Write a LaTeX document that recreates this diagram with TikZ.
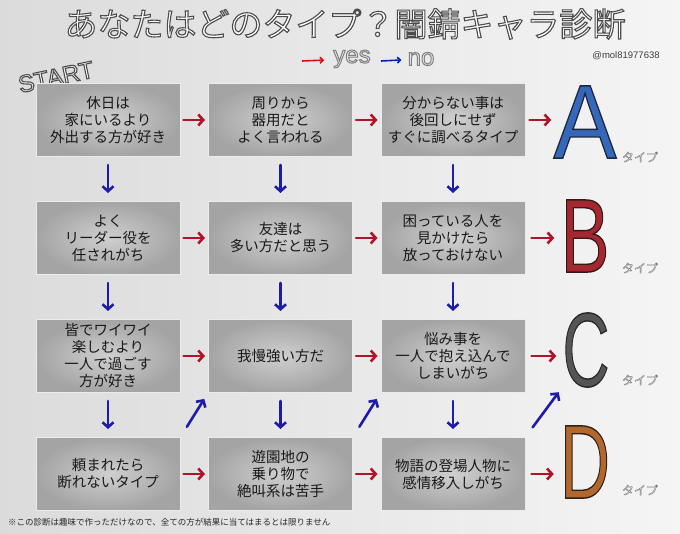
\documentclass[tikz,border=0pt]{standalone}
\usepackage{fontspec}
\setmainfont{Liberation Sans}
\newfontfamily\cjk{Noto Sans CJK JP}
\usetikzlibrary{positioning,arrows.meta}
\definecolor{yescol}{HTML}{B0142A}
\definecolor{nocol}{HTML}{1C1CA6}
\definecolor{boxedge}{HTML}{A4A4A4}
\definecolor{boxmid}{HTML}{CFCFCF}
\definecolor{letterA}{HTML}{3568BA}
\definecolor{letterB}{HTML}{A52830}
\definecolor{letterC}{HTML}{555555}
\definecolor{letterD}{HTML}{B0682E}
\tikzstyle{question} = [rectangle, minimum width=144pt, minimum height=73pt, inner sep=0pt, align=center, draw=white!85!gray, line width=1pt, inner color=boxmid, outer color=boxedge, text=black!90, font=\cjk\fontsize{14.5}{17}\selectfont]
\tikzstyle{yesarrow} = [yescol, line width=2.6pt, line cap=round, line join=round, -{Straight Barb[length=5pt,width=11pt]}, shorten <=3pt, shorten >=3pt]
\tikzstyle{noarrow} = [nocol, line width=2.6pt, line cap=round, line join=round, -{Straight Barb[length=5pt,width=11pt]}, shorten <=8pt, shorten >=8pt]
\tikzstyle{result} = [inner sep=0pt, font=\fontsize{105}{105}\selectfont]
\tikzstyle{typetag} = [inner sep=0pt, text=white!95!gray, font=\cjk\fontsize{12}{12}\selectfont]

% filled text with a stroked rim: rim colour (r g b), rim width, text
\newcommand{\hollow}[3]{\special{pdf:literal direct 2 Tr #1 RG #2 w}#3\special{pdf:literal direct 0 Tr}}

\begin{document}
\begin{tikzpicture}[x=1pt, y=1pt, node distance=44pt and 27.5pt]

	\useasboundingbox (0,0) rectangle (680,533);
	\fill[left color=black!14, right color=black!4] (0,0) rectangle (680,533);

	% heading
	\node (title) at (345,509) [inner sep=0pt, text=white, font=\cjk\fontsize{33}{33}\selectfont] {\hollow{0.3 0.3 0.3}{1.1}{あなたはどのタイプ？闇錆キャラ診断}};
	\node (yesLabel) at (352,474) [inner sep=0pt, text=black!8, font=\fontsize{24}{24}\selectfont] {\hollow{0.5 0.5 0.5}{1}{yes}};
	\node (noLabel) at (421,474) [inner sep=0pt, text=black!8, font=\fontsize{24}{24}\selectfont] {\hollow{0.5 0.5 0.5}{1}{no}};
	\coordinate (yesTail) at (302,472);
	\coordinate (noTail) at (381,472);
	\node (account) at (626,477) [inner sep=0pt, text=black!75, font=\fontsize{9.5}{10}\selectfont] {@mol81977638};
	\node (start) at (56,456) [inner sep=0pt, rotate=12, text=white, font=\fontsize{24}{24}\selectfont] {\hollow{0.3 0.3 0.3}{1.1}{START}};

	% questions
	\node (outdoors) at (108,413) [question] {休日は\\家にいるより\\外出する方が好き};
	\node (handy) [question, right=of outdoors] {周りから\\器用だと\\よく言われる};
	\node (lookUp) [question, right=of handy] {分からない事は\\後回しにせず\\すぐに調べるタイプ};

	\node (leader) [question, below=of outdoors] {よく\\リーダー役を\\任されがち};
	\node (friends) [question, below=of handy] {友達は\\多い方だと思う};
	\node (helper) [question, below=of lookUp] {困っている人を\\見かけたら\\放っておけない};

	\node (alone) [question, below=of leader] {皆でワイワイ\\楽しむより\\一人で過ごす\\方が好き};
	\node (patient) [question, below=of friends] {我慢強い方だ};
	\node (worries) [question, below=of helper] {悩み事を\\一人で抱え込んで\\しまいがち};

	\node (cantRefuse) [question, below=of alone] {頼まれたら\\断れないタイプ};
	\node (rides) [question, below=of patient] {遊園地の\\乗り物で\\絶叫系は苦手};
	\node (empathy) [question, below=of worries] {物語の登場人物に\\感情移入しがち};

	% results
	\node (typeA) at (585,411) [result, text=letterA] {\hollow{0.12 0.15 0.25}{1.4}{\scalebox{.9}[1]{A}}};
	\node (typeB) at (585,297) [result, text=letterB] {\hollow{0.2 0.1 0.1}{1.4}{\scalebox{.7}[1]{B}}};
	\node (typeC) at (586,183) [result, text=letterC] {\hollow{0.15 0.15 0.15}{1.4}{\scalebox{.62}[1]{C}}};
	\node (typeD) at (585,71) [result, text=letterD] {\hollow{0.2 0.12 0.08}{1.4}{\scalebox{.66}[1]{D}}};
	\node (tagA) at (640,376) [typetag] {\hollow{0.45 0.45 0.45}{0.35}{タイプ}};
	\node (tagB) at (640,265) [typetag] {\hollow{0.45 0.45 0.45}{0.35}{タイプ}};
	\node (tagC) at (640,153) [typetag] {\hollow{0.45 0.45 0.45}{0.35}{タイプ}};
	\node (tagD) at (640,43) [typetag] {\hollow{0.45 0.45 0.45}{0.35}{タイプ}};

	\node (note) at (8,11) [anchor=west, inner sep=0pt, text=black!85, font=\cjk\fontsize{8.5}{9}\selectfont] {※この診断は趣味で作っただけなので、全ての方が結果に当てはまるとは限りません};

	% legend
	\draw [line width=1.6pt, red!85!black!95, -{Straight Barb[length=3pt,width=6pt]}, shorten >=9pt] (yesTail) -- (yesLabel);
	\draw [line width=1.6pt, blue!80!cyan!70!black, -{Straight Barb[length=3pt,width=6pt]}, shorten >=6pt] (noTail) -- (noLabel);

	% yes
	\draw [yesarrow] (outdoors) -- (handy);
	\draw [yesarrow] (handy) -- (lookUp);
	\draw [yesarrow, shorten <=4pt, shorten >=2pt] (lookUp.east) -- (lookUp.east -| typeA.west);
	\draw [yesarrow] (leader) -- (friends);
	\draw [yesarrow] (friends) -- (helper);
	\draw [yesarrow, shorten <=6pt, shorten >=6pt] (helper.east) -- (helper.east -| typeB.west);
	\draw [yesarrow] (alone) -- (patient);
	\draw [yesarrow] (patient) -- (worries);
	\draw [yesarrow, shorten <=6pt, shorten >=6pt] (worries.east) -- (worries.east -| typeC.west);
	\draw [yesarrow] (cantRefuse) -- (rides);
	\draw [yesarrow] (rides) -- (empathy);
	\draw [yesarrow, shorten <=6pt, shorten >=6pt] (empathy.east) -- (empathy.east -| typeD.west);

	% no
	\draw [noarrow] (outdoors) -- (leader);
	\draw [noarrow] (handy) -- (friends);
	\draw [noarrow] (lookUp) -- (helper);
	\draw [noarrow] (leader) -- (alone);
	\draw [noarrow] (friends) -- (patient);
	\draw [noarrow] (helper) -- (worries);
	\draw [noarrow] (alone) -- (cantRefuse);
	\draw [noarrow] (patient) -- (rides);
	\draw [noarrow] (worries) -- (empathy);
	\draw [noarrow, shorten <=12pt, shorten >=7pt] (cantRefuse.north east) -- (patient.south west);
	\draw [noarrow, shorten <=12pt, shorten >=7pt] (rides.north east) -- (worries.south west);
	\draw [noarrow, shorten <=12pt, shorten >=6pt] (empathy.north east) -- (typeC.south west);

\end{tikzpicture}
\end{document}
